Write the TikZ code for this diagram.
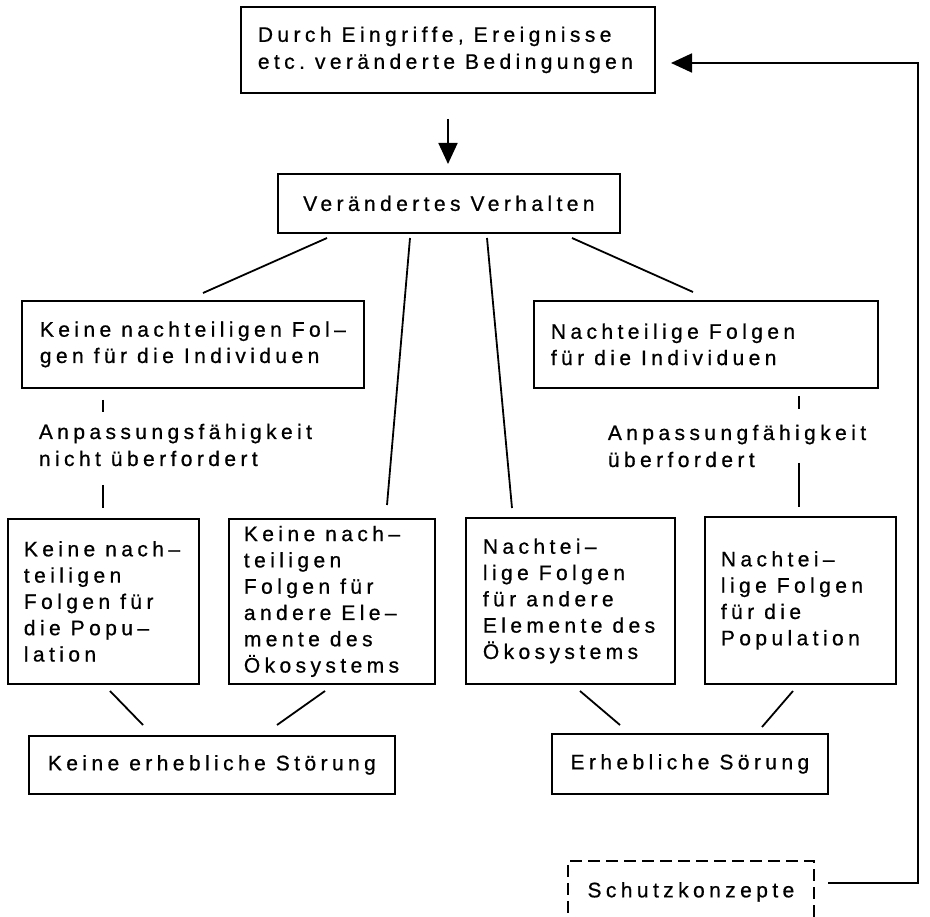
\documentclass[tikz,border=0pt]{standalone}
\usepackage{fontspec}
\setmainfont{Liberation Sans}[LetterSpace=21,FakeBold=0.7]
\usetikzlibrary{arrows.meta,calc}
\newcommand\dfont[1]{\fontsize{21}{#1}\selectfont}
\begin{document}
\begin{tikzpicture}[x=1pt,y=-1pt,line width=1.8pt,
  every node/.style={font=\dfont{26.3},execute at begin node={\spaceskip=10pt\xspaceskip=10pt\relax}},
  bx/.style={draw,line width=1.8pt,anchor=north west,inner ysep=0pt,align=left},
  cbx/.style={draw,line width=1.8pt,anchor=north west,inner ysep=0pt,inner xsep=0pt,align=center},
  lbl/.style={anchor=base west,align=left,inner sep=0pt,font=\dfont{27}},
  conn/.style={line width=1.8pt},
  arr/.style={line width=1.8pt,-{Triangle[length=21pt,width=19pt]}}]
\useasboundingbox (0,0) rectangle (930,917);
\clip (0,0) rectangle (930,917);
% boxes
\node[bx,text width=380pt,inner xsep=17pt,minimum height=86pt,font=\dfont{27}] (T) at (240,6)
  {Durch~Eingriffe,~Ereignisse\\etc.~veränderte~Bedingungen};
\node[cbx,text width=342pt,minimum height=59pt] (V) at (277,173) {Verändertes~Verhalten};
\node[bx,text width=306pt,inner xsep=18pt,minimum height=87pt] (L1) at (21,300)
  {Keine~nachteiligen~Fol–\\gen~für~die~Individuen};
\node[bx,text width=310pt,inner xsep=17pt,minimum height=87pt] (R1) at (533,300)
  {Nachteilige~Folgen\\für~die~Individuen};
\node[bx,text width=159pt,inner xsep=16pt,minimum height=165pt] (A) at (7,518)
  {Keine~nach–\\teiligen\\Folgen~für\\die~Popu–\\lation};
\node[bx,text width=176pt,inner xsep=15pt,minimum height=165pt] (B) at (228,518)
  {Keine~nach–\\teiligen\\Folgen~für\\andere~Ele–\\mente~des\\Ökosystems};
\node[bx,text width=175pt,inner xsep=17pt,minimum height=166pt] (C) at (465,517)
  {Nachtei–\\lige~Folgen\\für~andere\\Elemente~des\\Ökosystems};
\node[bx,text width=159pt,inner xsep=16pt,minimum height=167pt] (D) at (704,516)
  {Nachtei–\\lige~Folgen\\für~die\\Population};
\node[cbx,text width=366pt,minimum height=58pt] (K) at (28,735) {Keine~erhebliche~Störung};
\node[cbx,text width=276pt,minimum height=60pt] (E) at (551,733) {Erhebliche~Sörung};
\node[cbx,text width=246pt,minimum height=62pt,dash pattern=on 12pt off 6pt] (S) at (567,860) {Schutzkonzepte};
% labels
\node[lbl] (la) at (38,466) {Anpassungsfähigkeit\\nicht~überfordert};
\node[lbl] (ra) at (607,467) {Anpassungfähigkeit\\überfordert};
% connector coordinates
\coordinate (a0) at (448,119);
\coordinate (a1) at (448,164);
\coordinate (v1) at (327,238); \coordinate (l1t) at (203,293);
\coordinate (v2) at (410,238); \coordinate (b2t) at (387,505);
\coordinate (v3) at (487,238); \coordinate (c3t) at (512,508);
\coordinate (v4) at (572,238); \coordinate (r4t) at (693,292);
\coordinate (t1a) at (103,400); \coordinate (t1b) at (103,412);
\coordinate (t2a) at (103,485); \coordinate (t2b) at (103,508);
\coordinate (t3a) at (799,396); \coordinate (t3b) at (799,409);
\coordinate (t4a) at (799,463); \coordinate (t4b) at (799,507);
\coordinate (ab) at (110,691); \coordinate (ka) at (143,725);
\coordinate (bb) at (325,691); \coordinate (kb) at (277,725);
\coordinate (cb) at (580,691); \coordinate (ec) at (620,725);
\coordinate (db) at (793,691); \coordinate (ed) at (762,727);
\coordinate (s0) at (828,883); \coordinate (s1) at (918,883);
\coordinate (s2) at (918,63); \coordinate (s3) at (671,63);
% connectors
\draw[arr] (a0) -- (a1);
\draw[conn] (v1) -- (l1t);
\draw[conn] (v2) -- (b2t);
\draw[conn] (v3) -- (c3t);
\draw[conn] (v4) -- (r4t);
\draw[conn] (t1a) -- (t1b);
\draw[conn] (t2a) -- (t2b);
\draw[conn] (t3a) -- (t3b);
\draw[conn] (t4a) -- (t4b);
\draw[conn] (ab) -- (ka);
\draw[conn] (bb) -- (kb);
\draw[conn] (cb) -- (ec);
\draw[conn] (db) -- (ed);
\draw[arr] (s0) -- (s1) -- (s2) -- (s3);
\end{tikzpicture}
\end{document}
